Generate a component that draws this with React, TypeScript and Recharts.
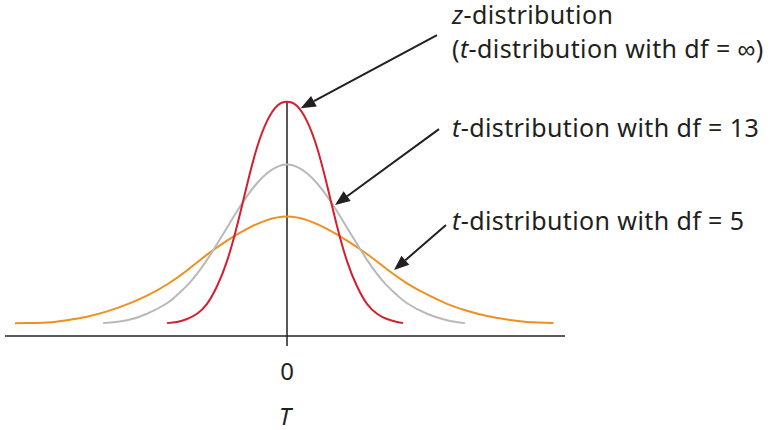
import React from "react";
import {
  LineChart,
  Line,
  XAxis,
  YAxis,
  ReferenceLine,
  Label,
} from "recharts";

// curve points (T on x, height on y)
const zT = [-3.0, -2.75, -2.5, -2.25, -2.0, -1.75, -1.5, -1.25, -1.0, -0.75, -0.5, -0.25, 0, 0.25, 0.5, 0.75, 1.0, 1.25, 1.5, 1.75, 2.0, 2.25, 2.5, 2.75, 2.9];
const zY = [0.022, 0.024, 0.029, 0.038, 0.055, 0.085, 0.128, 0.188, 0.258, 0.322, 0.367, 0.393, 0.4, 0.393, 0.367, 0.322, 0.258, 0.188, 0.128, 0.085, 0.055, 0.038, 0.029, 0.024, 0.022];

const df13T = [-4.6, -4.0, -3.5, -3.0, -2.75, -2.5, -2.25, -2.0, -1.75, -1.5, -1.25, -1.0, -0.75, -0.5, -0.25, 0, 0.25, 0.5, 0.75, 1.0, 1.25, 1.5, 1.75, 2.0, 2.25, 2.5, 2.75, 3.0, 3.5, 4.0, 4.45];
const df13Y = [0.022, 0.027, 0.038, 0.056, 0.07, 0.086, 0.106, 0.13, 0.157, 0.185, 0.213, 0.239, 0.261, 0.278, 0.289, 0.293, 0.289, 0.278, 0.261, 0.239, 0.213, 0.185, 0.157, 0.13, 0.106, 0.086, 0.07, 0.056, 0.038, 0.027, 0.022];

const df5T = [-6.8, -6.5, -6.0, -5.5, -5.0, -4.5, -4.0, -3.5, -3.0, -2.5, -2.0, -1.5, -1.0, -0.5, 0, 0.5, 1.0, 1.5, 2.0, 2.5, 3.0, 3.5, 4.0, 4.5, 5.0, 5.5, 6.0, 6.66];
const df5Y = [0.0217, 0.022, 0.023, 0.027, 0.033, 0.042, 0.054, 0.069, 0.088, 0.112, 0.139, 0.163, 0.183, 0.198, 0.204, 0.198, 0.183, 0.163, 0.14, 0.114, 0.09, 0.071, 0.055, 0.043, 0.034, 0.028, 0.024, 0.022];

const xTicks = [0];

// annotation texts (italic parts flagged)
const zLabel = [
  [{ s: "z", i: true }, { s: "-distribution" }],
  [{ s: "(" }, { s: "t", i: true }, { s: "-distribution with df = ∞)" }],
];
const df13Label = [[{ s: "t", i: true }, { s: "-distribution with df = 13" }]];
const df5Label = [[{ s: "t", i: true }, { s: "-distribution with df = 5" }]];

const toPoints = (xs: number[], ys: number[]) => xs.map((t, i) => ({ t, y: ys[i] }));

const INK = "#231f20";
const FONT = "'Noto Sans', sans-serif";

type Seg = { s: string; i?: boolean };

function makeArrow(lines: Seg[][], dx: number, dy: number, lead: number) {
  return (p: any) => {
    const { x1, y1, x2, y2 } = p;
    const len = Math.hypot(x2 - x1, y2 - y1);
    const ux = (x2 - x1) / len;
    const uy = (y2 - y1) / len;
    const head = 15;
    const half = 6;
    const bx = x2 - ux * head;
    const by = y2 - uy * head;
    const pts = `${x2},${y2} ${bx - uy * half},${by + ux * half} ${bx + uy * half},${by - ux * half}`;
    return (
      <g>
        <line x1={x1} y1={y1} x2={bx} y2={by} stroke={INK} strokeWidth={2} />
        <polygon points={pts} fill={INK} />
        {lines.map((segs, k) => (
          <text
            key={k}
            x={x1 + dx}
            y={y1 + dy + k * lead}
            fontFamily={FONT}
            fontSize={25}
            letterSpacing={0.4}
            fill={INK}
          >
            {segs.map((g, j) => (
              <tspan key={j} fontStyle={g.i ? "italic" : "normal"}>
                {g.s}
              </tspan>
            ))}
          </text>
        ))}
      </g>
    );
  };
}

export default function App() {
  return (
    <div style={{ position: "absolute", left: 0, top: 0, background: "#fff" }}>
      <LineChart width={773} height={430} margin={{ top: 0, right: 208, bottom: 34, left: 5 }}>
        <XAxis
          type="number"
          dataKey="t"
          domain={[-7.05, 6.95]}
          ticks={xTicks}
          allowDataOverflow
          stroke={INK}
          strokeWidth={1.5}
          tickSize={10}
          tickMargin={17}
          height={60}
          tick={{ fill: INK, fontSize: 24, fontFamily: FONT }}
        >
          <Label
            value="T"
            position="bottom"
            offset={12}
            fill={INK}
            fontSize={24}
            fontStyle="italic"
            fontFamily={FONT}
          />
        </XAxis>
        <YAxis hide type="number" domain={[0, 0.574]} allowDataOverflow />
        <ReferenceLine
          segment={[{ x: 0, y: 0 }, { x: 0, y: 0.4 }]}
          stroke={INK}
          strokeWidth={1.5}
          ifOverflow="visible"
        />
        <Line data={toPoints(df5T, df5Y)} dataKey="y" type="natural" stroke="#ef8f1f" strokeWidth={2} dot={false} isAnimationActive={false} />
        <Line data={toPoints(df13T, df13Y)} dataKey="y" type="natural" stroke="#b9b9b9" strokeWidth={2} dot={false} isAnimationActive={false} />
        <Line data={toPoints(zT, zY)} dataKey="y" type="natural" stroke="#d2202f" strokeWidth={2} dot={false} isAnimationActive={false} />
        <ReferenceLine
          segment={[{ x: 3.75, y: 0.514 }, { x: 0.3425, y: 0.389 }]}
          ifOverflow="visible"
          shape={makeArrow(zLabel, 15, -11, 34)}
        />
        <ReferenceLine
          segment={[{ x: 3.8, y: 0.3534 }, { x: 1.2, y: 0.2237 }]}
          ifOverflow="visible"
          shape={makeArrow(df13Label, 13, 8, 0)}
        />
        <ReferenceLine
          segment={[{ x: 3.975, y: 0.1895 }, { x: 2.675, y: 0.1127 }]}
          ifOverflow="visible"
          shape={makeArrow(df5Label, 6, 5, 0)}
        />
      </LineChart>
    </div>
  );
}
